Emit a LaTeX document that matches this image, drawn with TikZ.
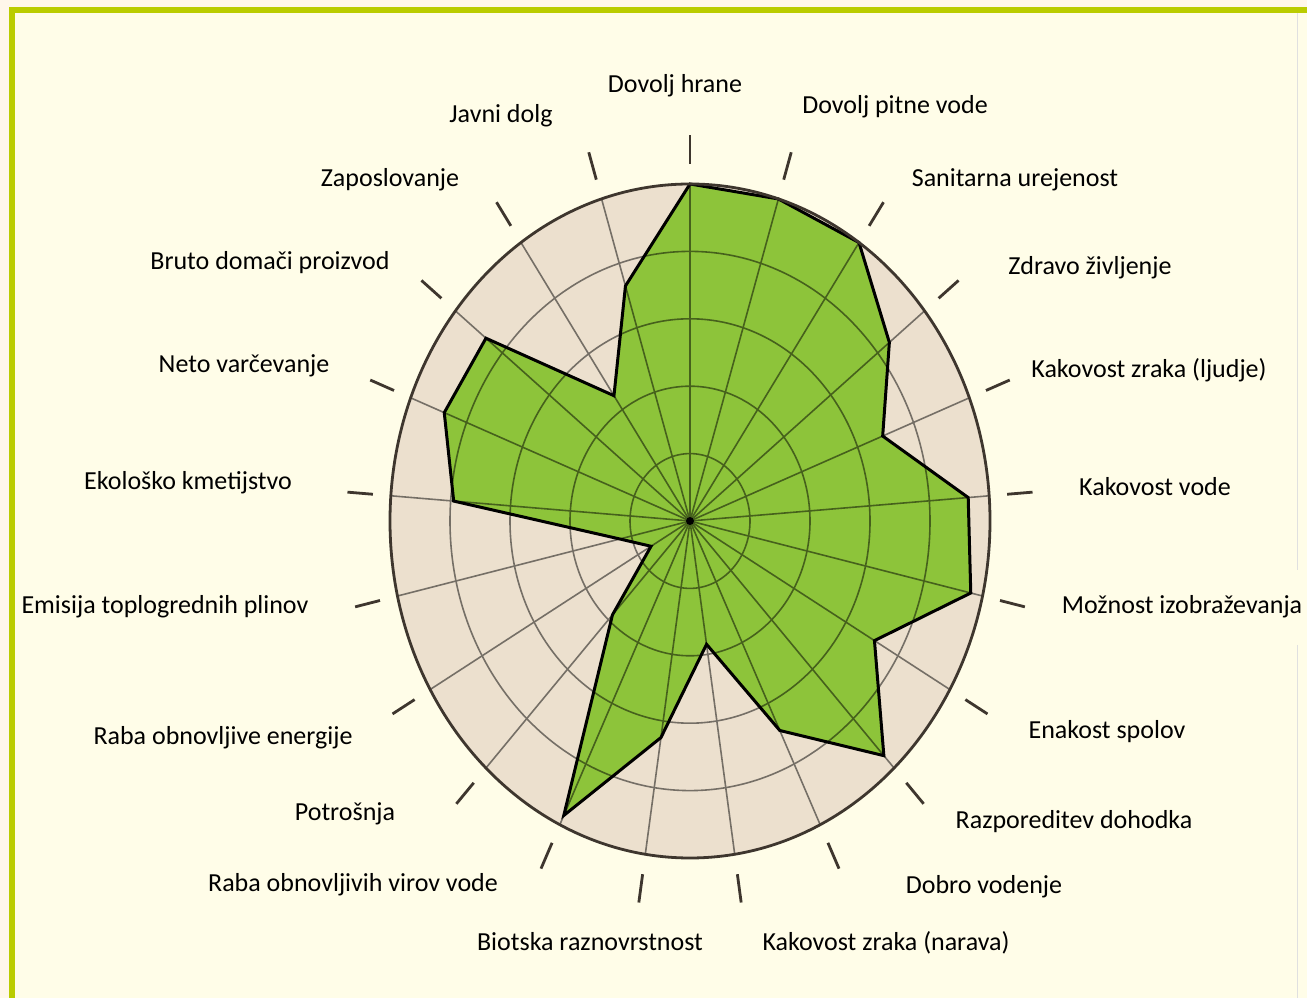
\documentclass[tikz,border=0pt]{standalone}
\usepackage{fontspec}
\setmainfont{Carlito}
\usepackage{tikz}
\definecolor{paper}{RGB}{255,253,232}
\definecolor{edgepaper}{RGB}{255,247,234}
\definecolor{frame}{RGB}{186,204,0}
\definecolor{disc}{RGB}{236,224,206}
\definecolor{leaf}{RGB}{141,196,58}
\definecolor{rim}{RGB}{62,54,46}
\tikzstyle{lbl} = [font=\fontsize{26}{30}\selectfont, text=black,
    inner sep=0pt, anchor=base]
\tikzstyle{grid} = [black, line width=1.6pt]
\tikzstyle{tick} = [rim, line width=2.8pt]
\tikzstyle{outline} = [black, line width=3pt]

\begin{document}
\begin{tikzpicture}[x=1pt,y=1pt]
    \fill[edgepaper] (0,0) rectangle (1307,998);
    \fill[paper] (15,0) rectangle (1307,985);
    \fill[frame] (9,0) rectangle (15,991);
    \fill[frame] (9,985) rectangle (1307,991);
    \draw[black!12, line width=1pt] (1297,985) -- (1297,428);
    \draw[black!12, line width=1pt] (1297,353) -- (1297,0);
\begin{scope}[shift={(690,477)}, x=300pt, y=337pt]
    \fill[disc] (0,0) circle [radius=1];
    % data values
    \coordinate (d0) at (90:1);
    \coordinate (d1) at (72.86:1);
    \coordinate (d2) at (55.71:1);
    \coordinate (d3) at (38.57:0.85);
    \coordinate (d4) at (21.43:0.69);
    \coordinate (d5) at (4.29:0.93);
    \coordinate (d6) at (-12.86:0.96);
    \coordinate (d7) at (-30:0.71);
    \coordinate (d8) at (-47.14:0.95);
    \coordinate (d9) at (-64.29:0.69);
    \coordinate (d10) at (-81.43:0.37);
    \coordinate (d11) at (-98.57:0.65);
    \coordinate (d12) at (-115.71:0.97);
    \coordinate (d13) at (-132.86:0.38);
    \coordinate (d14) at (-150:0.15);
    \coordinate (d15) at (-167.14:0.24);
    \coordinate (d16) at (175.71:0.79);
    \coordinate (d17) at (158.57:0.88);
    \coordinate (d18) at (141.43:0.87);
    \coordinate (d19) at (124.29:0.45);
    \coordinate (d20) at (107.14:0.73);
    \fill[leaf] (d0) -- (d1) -- (d2) -- (d3) -- (d4) -- (d5) -- (d6)
        -- (d7) -- (d8) -- (d9) -- (d10) -- (d11) -- (d12) -- (d13)
        -- (d14) -- (d15) -- (d16) -- (d17) -- (d18) -- (d19) -- (d20) -- cycle;
    % grid
    \begin{scope}[transparency group, opacity=0.5]
    \draw[grid] (0,0) circle [radius=0.2];
    \draw[grid] (0,0) circle [radius=0.4];
    \draw[grid] (0,0) circle [radius=0.6];
    \draw[grid] (0,0) circle [radius=0.8];
    \draw[grid] (0,0) -- (90:1);
    \draw[grid] (0,0) -- (72.86:1);
    \draw[grid] (0,0) -- (55.71:1);
    \draw[grid] (0,0) -- (38.57:1);
    \draw[grid] (0,0) -- (21.43:1);
    \draw[grid] (0,0) -- (4.29:1);
    \draw[grid] (0,0) -- (-12.86:1);
    \draw[grid] (0,0) -- (-30:1);
    \draw[grid] (0,0) -- (-47.14:1);
    \draw[grid] (0,0) -- (-64.29:1);
    \draw[grid] (0,0) -- (-81.43:1);
    \draw[grid] (0,0) -- (-98.57:1);
    \draw[grid] (0,0) -- (-115.71:1);
    \draw[grid] (0,0) -- (-132.86:1);
    \draw[grid] (0,0) -- (-150:1);
    \draw[grid] (0,0) -- (-167.14:1);
    \draw[grid] (0,0) -- (175.71:1);
    \draw[grid] (0,0) -- (158.57:1);
    \draw[grid] (0,0) -- (141.43:1);
    \draw[grid] (0,0) -- (124.29:1);
    \draw[grid] (0,0) -- (107.14:1);
    \end{scope}
    \draw[outline] (d0) -- (d1) -- (d2) -- (d3) -- (d4) -- (d5) -- (d6)
        -- (d7) -- (d8) -- (d9) -- (d10) -- (d11) -- (d12) -- (d13)
        -- (d14) -- (d15) -- (d16) -- (d17) -- (d18) -- (d19) -- (d20) -- cycle;
    \draw[rim, line width=2.8pt] (0,0) circle [radius=1];
    \fill[black] (0,0) circle [radius=4pt];
    % ticks
    \draw[tick] (90:1.06) -- (90:1.145);
    \draw[tick] (72.86:1.06) -- (72.86:1.145);
    \draw[tick] (55.71:1.06) -- (55.71:1.145);
    \draw[tick] (38.57:1.06) -- (38.57:1.145);
    \draw[tick] (21.43:1.06) -- (21.43:1.145);
    \draw[tick] (4.29:1.06) -- (4.29:1.145);
    \draw[tick] (-12.86:1.06) -- (-12.86:1.145);
    \draw[tick] (-30:1.06) -- (-30:1.145);
    \draw[tick] (-47.14:1.06) -- (-47.14:1.145);
    \draw[tick] (-64.29:1.06) -- (-64.29:1.145);
    \draw[tick] (-81.43:1.06) -- (-81.43:1.145);
    \draw[tick] (-98.57:1.06) -- (-98.57:1.145);
    \draw[tick] (-115.71:1.06) -- (-115.71:1.145);
    \draw[tick] (-132.86:1.06) -- (-132.86:1.145);
    \draw[tick] (-150:1.06) -- (-150:1.145);
    \draw[tick] (-167.14:1.06) -- (-167.14:1.145);
    \draw[tick] (175.71:1.06) -- (175.71:1.145);
    \draw[tick] (158.57:1.06) -- (158.57:1.145);
    \draw[tick] (141.43:1.06) -- (141.43:1.145);
    \draw[tick] (124.29:1.06) -- (124.29:1.145);
    \draw[tick] (107.14:1.06) -- (107.14:1.145);
\end{scope}
    % labels
    \node[lbl] (hrane) at (675,905) {Dovolj hrane};
    \node[lbl] (pitne) at (895,884) {Dovolj pitne vode};
    \node[lbl] (sanit) at (1015,811) {Sanitarna urejenost};
    \node[lbl] (zdravo) at (1090,723) {Zdravo življenje};
    \node[lbl] (zrakLj) at (1149,620) {Kakovost zraka (ljudje)};
    \node[lbl] (voda) at (1155,502) {Kakovost vode};
    \node[lbl] (izobr) at (1182,384) {Možnost izobraževanja};
    \node[lbl] (spol) at (1107,259) {Enakost spolov};
    \node[lbl] (dohod) at (1074,169) {Razporeditev dohodka};
    \node[lbl] (vodenje) at (984,104) {Dobro vodenje};
    \node[lbl] (zrakNar) at (886,47) {Kakovost zraka (narava)};
    \node[lbl] (biotska) at (590,47) {Biotska raznovrstnost};
    \node[lbl] (viri) at (353,106) {Raba obnovljivih virov vode};
    \node[lbl] (potros) at (345,177) {Potrošnja};
    \node[lbl] (energ) at (223,253) {Raba obnovljive energije};
    \node[lbl] (emis) at (165,384) {Emisija toplogrednih plinov};
    \node[lbl] (kmet) at (188,508) {Ekološko kmetijstvo};
    \node[lbl] (varc) at (244,625) {Neto varčevanje};
    \node[lbl] (bdp) at (270,728) {Bruto domači proizvod};
    \node[lbl] (zapos) at (390,811) {Zaposlovanje};
    \node[lbl] (dolg) at (501,875) {Javni dolg};
\end{tikzpicture}
\end{document}
